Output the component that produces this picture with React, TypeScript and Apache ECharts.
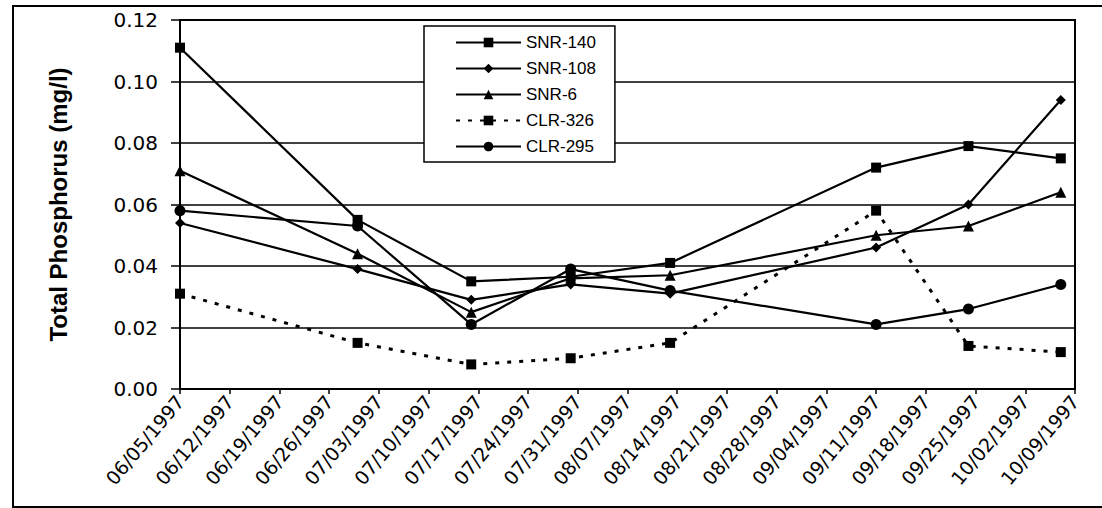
import React, { useEffect, useRef } from "react";
import * as echarts from "echarts";

const startDate = "06/05/1997";
const endDate = "10/09/1997";
const sampleDates = ["06/05/1997", "06/30/1997", "07/16/1997", "07/30/1997", "08/13/1997", "09/11/1997", "09/24/1997", "10/07/1997"];

const seriesNames = ["SNR-140", "SNR-108", "SNR-6", "CLR-326", "CLR-295"];
const snr140 = [0.111, 0.055, 0.035, 0.0365, 0.041, 0.072, 0.079, 0.075];
const snr108 = [0.054, 0.039, 0.029, 0.034, 0.031, 0.046, 0.060, 0.094];
const snr6 = [0.071, 0.044, 0.025, 0.036, 0.037, 0.050, 0.053, 0.064];
const clr326 = [0.031, 0.015, 0.008, 0.010, 0.015, 0.058, 0.014, 0.012];
const clr295 = [0.058, 0.053, 0.021, 0.039, 0.032, 0.021, 0.026, 0.034];

const yTicks = ["0.00", "0.02", "0.04", "0.06", "0.08", "0.10", "0.12"];
const yTitle = "Total Phosphorus (mg/l)";

const DAY = 86400000;
function parseDate(s: string): number {
  const [m, d, y] = s.split("/").map(Number);
  return Date.UTC(y, m - 1, d);
}
const t0 = parseDate(startDate);
const dayOffset = (s: string) => Math.round((parseDate(s) - t0) / DAY);
const pad = (n: number) => (n < 10 ? "0" + n : "" + n);
function fmtDate(v: number): string {
  const d = new Date(t0 + v * DAY);
  return pad(d.getUTCMonth() + 1) + "/" + pad(d.getUTCDate()) + "/" + d.getUTCFullYear();
}

export default function App() {
  const ref = useRef<HTMLDivElement>(null);
  useEffect(() => {
    document.body.style.margin = "0";
    const chart = echarts.init(ref.current!, undefined, { renderer: "svg" });
    const xs = sampleDates.map(dayOffset);
    const mk = (vals: number[]) => vals.map((v, i) => [xs[i], v]);
    const values = [snr140, snr108, snr6, clr326, clr295];
    const symbols = ["rect", "diamond", "triangle", "rect", "circle"];
    const sizes = [10, 10, 11, 10, 11];
    const series = seriesNames.map((name, i) => ({
      name,
      type: "line",
      data: mk(values[i]),
      symbol: symbols[i],
      symbolSize: sizes[i],
      showSymbol: true,
      itemStyle: { color: "#000" },
      lineStyle: {
        color: "#000",
        width: i === 3 ? 3 : 2.2,
        type: i === 3 ? [4, 8] : "solid",
      },
      z: 3,
    }));
    chart.setOption({
      animation: false,
      backgroundColor: "#fff",
      textStyle: { fontFamily: "Liberation Sans, Arial, sans-serif", color: "#000" },
      grid: {
        left: 180,
        top: 20,
        right: 27,
        bottom: 119,
        show: true,
        borderColor: "#000",
        borderWidth: 2,
      },
      legend: {
        orient: "vertical",
        left: 424,
        top: 26,
        data: seriesNames,
        itemWidth: 65,
        itemHeight: 12,
        itemGap: 9,
        padding: [8, 19, 7, 31],
        backgroundColor: "#fff",
        borderColor: "#000",
        borderWidth: 1.5,
        textStyle: { fontSize: 17, color: "#000", fontFamily: "Liberation Sans, Arial, sans-serif" },
        selectedMode: false,
        z: 10,
      },
      xAxis: {
        type: "value",
        min: 0,
        max: dayOffset(endDate),
        interval: 7,
        axisLine: { lineStyle: { color: "#000", width: 2 } },
        axisTick: { show: true, length: 5, lineStyle: { color: "#000", width: 1.5 } },
        axisLabel: {
          rotate: 50,
          fontSize: 19,
          color: "#000",
          margin: 9,
          fontFamily: "DejaVu Sans, sans-serif",
          formatter: (v: number) => fmtDate(v),
        },
        splitLine: { show: false },
      },
      yAxis: {
        type: "value",
        min: 0,
        max: 0.12,
        interval: 0.02,
        name: yTitle,
        nameLocation: "middle",
        nameGap: 110,
        nameTextStyle: { fontSize: 24, fontWeight: "bold", color: "#000", fontFamily: "Liberation Sans, Arial, sans-serif" },
        axisLine: { show: true, lineStyle: { color: "#000", width: 2 } },
        axisTick: { show: true, length: 9, lineStyle: { color: "#000", width: 1.5 } },
        axisLabel: {
          fontSize: 20,
          color: "#000",
          margin: 22,
          fontFamily: "DejaVu Sans, sans-serif",
          formatter: (v: number) => yTicks[Math.round(v / 0.02)] ?? v.toFixed(2),
        },
        splitLine: { show: true, lineStyle: { color: "#000", width: 1.5 } },
      },
      graphic: [
        {
          type: "rect",
          shape: { x: 13, y: 6, width: 1100, height: 501 },
          style: { fill: "none", stroke: "#000", lineWidth: 2 },
          silent: true,
        },
      ],
      series,
    });
    return () => chart.dispose();
  }, []);
  return <div ref={ref} style={{ width: 1102, height: 508 }} />;
}
